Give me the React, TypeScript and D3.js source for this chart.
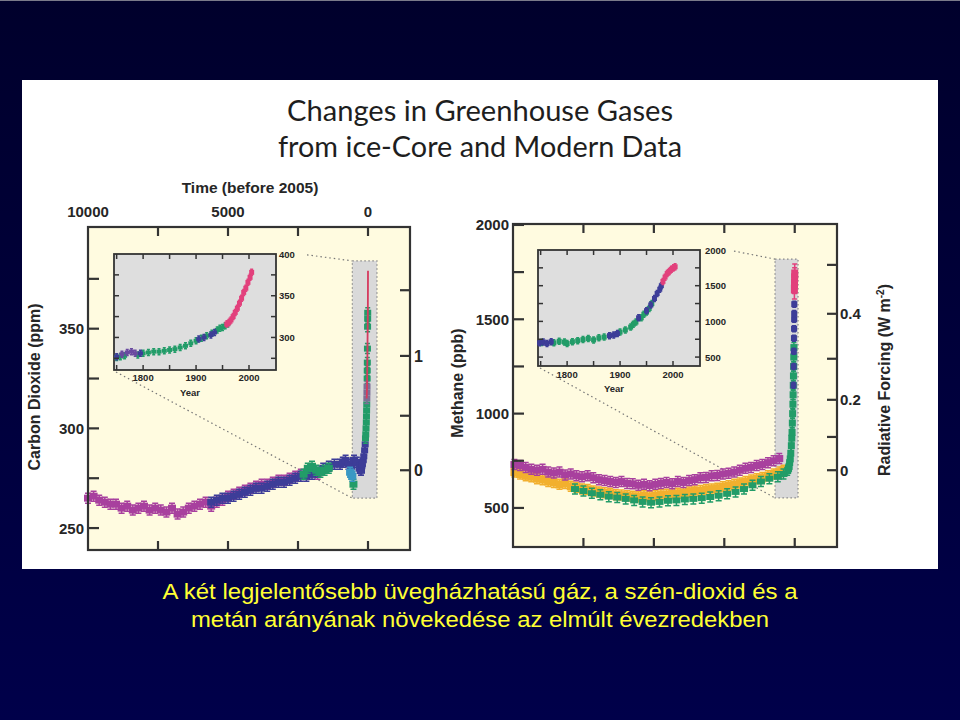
import React from 'react';
import * as d3 from 'd3';

// ---------- DATA ----------
// Carbon dioxide, ice core (years before 2005, ppm)
const co2Magenta: [number, number][] = [
  [10000, 265], [9800, 266], [9600, 264], [9400, 263], [9200, 262], [9000, 262], [8800, 260], [8600, 261],
  [8400, 259], [8200, 260], [8000, 261], [7800, 259], [7600, 260], [7400, 259], [7200, 258], [7000, 260],
  [6800, 257], [6600, 258], [6400, 260], [6200, 261], [6000, 262], [5800, 263], [5600, 261], [5400, 263],
  [5200, 264], [5000, 266], [4800, 267], [4600, 268], [4400, 269], [4200, 270], [4000, 271], [3800, 272],
  [3600, 272], [3400, 273], [3200, 274], [3000, 274], [2800, 275], [2600, 276], [2400, 277], [2200, 277],
  [2000, 278], [1800, 277],
];
const co2Blue: [number, number][] = [
  [5600, 263], [5400, 264], [5200, 265], [5000, 265], [4800, 266], [4600, 267], [4400, 268], [4200, 269],
  [4000, 270], [3800, 270], [3600, 271], [3400, 272], [3200, 273], [3000, 273], [2800, 274], [2600, 275],
  [2400, 276], [2200, 276], [2000, 277], [1800, 278], [1600, 280], [1400, 281], [1200, 282], [1000, 282],
  [900, 283], [800, 284], [700, 282], [600, 281], [500, 284], [400, 283], [300, 280], [250, 279],
];
const co2Green: [number, number][] = [
  [2300, 277], [2150, 280], [2000, 281], [1850, 279], [1700, 278], [1550, 279], [1400, 280], [520, 272],
];
const co2Cyan: [number, number][] = [[640, 278], [600, 277], [560, 276]];
const co2SpikeBlue: [number, number][] = [
  [250, 279], [220, 281], [200, 282], [170, 284], [150, 286], [120, 289], [100, 292],
];
const co2SpikeGreen: [number, number][] = [
  [90, 295], [80, 297], [70, 300], [60, 303], [55, 306], [50, 309], [45, 312],
  [30, 325], [27, 329], [24, 333], [20, 340], [15, 351], [12, 355], [10, 358],
];
const co2SpikeGray: [number, number][] = [[42, 315], [38, 318], [35, 321]];
const co2SpikeRed: [number, number][] = [
  [47, 315], [40, 318], [35, 320], [30, 325], [25, 331], [20, 339], [15, 346], [10, 354], [5, 361], [2, 370], [0, 379],
];

// Carbon dioxide, inset (year AD, ppm)
const co2InsetPurple: [number, number][] = [[1760, 280], [1770, 282], [1778, 283], [1785, 281]];
const co2InsetBlue: [number, number][] = [[1750, 277], [1795, 281], [1905, 298], [1915, 300], [1928, 303], [1935, 306]];
const co2InsetGreen: [number, number][] = [
  [1750, 276], [1757, 277], [1765, 278], [1790, 279], [1800, 281], [1810, 282], [1820, 283], [1830, 283],
  [1840, 284], [1850, 285], [1860, 286], [1870, 288], [1880, 290], [1890, 293], [1900, 296], [1910, 299],
  [1920, 302], [1930, 305], [1940, 309], [1945, 311], [1950, 312], [1955, 314], [1960, 316],
];
const co2InsetPink: [number, number][] = [
  [1958, 316], [1962, 318], [1966, 321], [1970, 325], [1974, 330], [1978, 335], [1982, 341],
  [1986, 347], [1990, 354], [1994, 359], [1998, 366], [2002, 372], [2005, 378],
];

// Methane, ice core (years before 2005, ppb)
const ch4Purple: [number, number][] = [
  [9950, 730], [9750, 725], [9550, 715], [9350, 705], [9150, 700], [8950, 705], [8750, 690], [8550, 685],
  [8350, 690], [8150, 675], [7950, 680], [7750, 670], [7550, 665], [7350, 670], [7150, 660], [6950, 650],
  [6750, 645], [6550, 640], [6350, 635], [6150, 640], [5950, 630], [5750, 628], [5550, 620], [5350, 625],
  [5150, 618], [4950, 625], [4750, 630], [4550, 635], [4350, 628], [4150, 640], [3950, 635], [3750, 645],
  [3550, 650], [3350, 660], [3150, 662], [2950, 670], [2750, 672], [2550, 680], [2350, 684], [2150, 690],
  [1950, 700], [1750, 710], [1550, 715], [1350, 725], [1150, 730], [950, 740], [750, 750], [550, 762],
];
const ch4Orange: [number, number][] = [
  [9950, 690], [9750, 680], [9550, 670], [9350, 665], [9150, 655], [8950, 650], [8750, 640], [8550, 635],
  [8350, 625], [8150, 630], [7950, 615], [7750, 610], [7550, 600], [7350, 598], [7150, 590], [6950, 585],
  [6750, 580], [6550, 578], [6350, 570], [6150, 568], [5950, 565], [5750, 562], [5550, 560], [5350, 565],
  [5150, 560], [4950, 566], [4750, 570], [4550, 572], [4350, 575], [4150, 578], [3950, 580], [3750, 585],
  [3550, 590], [3350, 592], [3150, 598], [2950, 600], [2750, 605], [2550, 612], [2350, 618], [2150, 625],
  [1950, 632], [1750, 640], [1550, 648], [1350, 655], [1150, 662], [950, 670], [750, 680], [550, 690], [400, 700],
];
const ch4Green: [number, number][] = [
  [7800, 600], [7500, 590], [7200, 578], [6900, 570], [6600, 560], [6300, 555], [6000, 548], [5700, 540],
  [5400, 532], [5100, 528], [4800, 532], [4500, 538], [4200, 540], [3900, 545], [3600, 548], [3300, 552],
  [3000, 558], [2700, 565], [2400, 575], [2100, 585], [1800, 600], [1500, 620], [1200, 640], [900, 655],
  [600, 665], [400, 680],
];
const ch4SpikeGreen: [number, number][] = [
  [250, 700], [220, 710], [200, 720], [180, 740], [160, 760], [140, 790], [120, 830], [105, 870], [95, 900],
  [85, 950], [75, 1000], [65, 1050], [58, 1100], [52, 1150], [46, 1200], [40, 1250], [35, 1300], [30, 1350],
];
const ch4SpikeBlue: [number, number][] = [
  [45, 1150], [38, 1250], [33, 1330], [28, 1400], [25, 1450], [22, 1500], [20, 1530], [17, 1580],
];
const ch4SpikePink: [number, number][] = [[12, 1660], [8, 1690], [4, 1720], [1, 1740]];

// Methane, inset (year AD, ppb)
const ch4InsetBlue: [number, number][] = [
  [1748, 700], [1755, 710], [1762, 690], [1770, 715], [1880, 800], [1888, 810], [1895, 830], [1935, 1050],
  [1950, 1150], [1958, 1230], [1965, 1320], [1970, 1390], [1975, 1450], [1978, 1500],
];
const ch4InsetGreen: [number, number][] = [
  [1752, 705], [1775, 700], [1785, 720], [1795, 710], [1800, 690], [1810, 715], [1820, 730], [1830, 745],
  [1840, 760], [1850, 740], [1860, 770], [1870, 780], [1900, 850], [1910, 880], [1920, 920], [1925, 960],
  [1930, 990], [1940, 1050], [1945, 1100], [1950, 1130], [1955, 1180], [1960, 1250],
];
const ch4InsetPink: [number, number][] = [[1981, 1560], [1985, 1620], [1989, 1670], [1993, 1700], [1997, 1730], [2001, 1750], [2004, 1765]];

// Axis tick values
const timeTicks = [7500, 5000, 2500, 0];
const timeLabels = [10000, 5000, 0];
const co2TicksMajor = [250, 300, 350];
const co2TicksMinor = [275, 325, 375];
const co2ForcingTicks = [0, 0.5, 1, 1.5];
const co2ForcingLabels = [0, 1];
const ch4TicksMajor = [500, 1000, 1500, 2000];
const ch4TicksMinor = [750, 1250, 1750];
const ch4ForcingTicks = [0, 0.1, 0.2, 0.3, 0.4, 0.5];
const ch4ForcingLabels = [0, 0.2, 0.4];
const insetYearTicks = [1750, 1800, 1850, 1900, 1950, 2000, 2050];
const insetYearLabels = [1800, 1900, 2000];
const co2InsetTicks = [275, 300, 325, 350, 375, 400];
const co2InsetLabels = [300, 350, 400];
const ch4InsetTicks = [500, 750, 1000, 1250, 1500, 1750, 2000];
const ch4InsetLabels = [500, 1000, 1500, 2000];

const titleLines = ['Changes in Greenhouse Gases', 'from ice-Core and Modern Data'];
const captionLines = [
  'A két legjelentősebb üvegházhatású gáz, a szén-dioxid és a',
  'metán arányának növekedése az elmúlt évezredekben',
];

// ---------- COLORS ----------
const C = {
  magenta: '#a8409e',
  blue: '#3d3d98',
  green: '#229c68',
  cyan: '#3a98c4',
  gray: '#7a7094',
  pink: '#e2407c',
  red: '#d63a5e',
  orange: '#f2b02e',
  text: '#262626',
};

// ---------- SCALES ----------
const co2X = d3.scaleLinear().domain([10000, -1500]).range([88, 410]);
const co2Y = d3.scaleLinear().domain([239, 401]).range([550, 227]);
const co2InX = d3.scaleLinear().domain([1745, 2051]).range([114, 276]);
const co2InY = d3.scaleLinear().domain([261, 400]).range([370, 254]);
const ch4X = d3.scaleLinear().domain([10000, -1500]).range([513, 837]);
const ch4Y = d3.scaleLinear().domain([293, 2005]).range([547, 224]);
const ch4InX = d3.scaleLinear().domain([1745, 2051]).range([538, 700]);
const ch4InY = d3.scaleLinear().domain([375, 2000]).range([366, 250]);

// radiative forcing conversions
const co2FromForcing = (f: number) => 279 * Math.exp(f / 5.35);
const overlap = (m: number, n: number) =>
  0.47 * Math.log(1 + 2.01e-5 * Math.pow(m * n, 0.75) + 5.31e-15 * m * Math.pow(m * n, 1.52));
const ch4Forcing = (m: number) => {
  const m0 = 700, n0 = 270;
  return 0.036 * (Math.sqrt(m) - Math.sqrt(m0)) - (overlap(m, n0) - overlap(m0, n0));
};
const ch4FromForcing = (f: number) => {
  let lo = 300, hi = 3000;
  for (let i = 0; i < 60; i++) {
    const mid = (lo + hi) / 2;
    if (ch4Forcing(mid) < f) lo = mid; else hi = mid;
  }
  return (lo + hi) / 2;
};

const AX_FONT = '"Liberation Sans", Arial, sans-serif';

function marks(
  data: [number, number][],
  sx: (v: number) => number,
  sy: (v: number) => number,
  color: string,
  key: string,
  w = 8,
  h = 7,
  e = 5,
) {
  return data.map(([t, v], i) => {
    const x = sx(t), y = sy(v);
    const cw = Math.max(2, w - 2);
    return (
      <g key={key + i}>
        <path
          d={`M${x - cw / 2},${y - e}h${cw}M${x},${y - e}v${2 * e}M${x - cw / 2},${y + e}h${cw}`}
          stroke={color}
          strokeWidth={1.5}
          fill="none"
        />
        <rect x={x - w / 2} y={y - h / 2} width={w} height={h} fill={color} />
      </g>
    );
  });
}

export default function App() {
  const co2Line = d3.line<[number, number]>().x((d) => co2X(d[0])).y((d) => co2Y(d[1]));

  const L = { x0: co2X(10000), x1: co2X(-1500), y0: co2Y(401), y1: co2Y(239) };
  const R = { x0: ch4X(10000), x1: ch4X(-1500), y0: ch4Y(2005), y1: ch4Y(293) };
  const LI = { x0: co2InX(1745), x1: co2InX(2051), y0: co2InY(400), y1: co2InY(261) };
  const RI = { x0: ch4InX(1745), x1: ch4InX(2051), y0: ch4InY(2000), y1: ch4InY(375) };

  const co2Zoom = { x0: co2X(560), x1: co2X(-320), y0: co2Y(384), y1: co2Y(265) };
  const ch4Zoom = { x0: ch4X(700), x1: ch4X(-117), y0: ch4Y(1819), y1: ch4Y(553) };

  const dotted = { stroke: '#777', strokeWidth: 1.2, strokeDasharray: '1.5 3', fill: 'none' };

  return (
    <svg
      width={960}
      height={720}
      viewBox="0 0 960 720"
      style={{ position: 'absolute', left: 0, top: 0, display: 'block' }}
    >
      <defs>
        <linearGradient id="bg" x1="0" y1="0" x2="0" y2="1">
          <stop offset="0" stopColor="#00002c" />
          <stop offset="1" stopColor="#00004a" />
        </linearGradient>
      </defs>
      <rect x={0} y={0} width={960} height={720} fill="url(#bg)" />
      <line x1={0} y1={0.5} x2={960} y2={0.5} stroke="#7a7a8a" strokeWidth={1} />
      <rect x={22} y={80} width={916} height={489} fill="#ffffff" />

      {/* Title */}
      {titleLines.map((t, i) => (
        <text
          key={t}
          x={480}
          y={121 + i * 36}
          textAnchor="middle"
          fontFamily="Lato, 'Open Sans', sans-serif"
          fontSize={29}
          fill="#1e1e1e"
          textLength={i === 0 ? 386 : 404}
          lengthAdjust="spacingAndGlyphs"
        >
          {t}
        </text>
      ))}

      {/* ===== LEFT PANEL: CO2 ===== */}
      <rect x={L.x0} y={L.y0} width={L.x1 - L.x0} height={L.y1 - L.y0} fill="#fffbe0" />
      <line x1={LI.x1 + 31} y1={co2InY(399)} x2={co2Zoom.x0} y2={co2Zoom.y0} {...dotted} />
      <line x1={LI.x0 + 2} y1={LI.y1 + 2} x2={co2Zoom.x0} y2={co2Zoom.y1} {...dotted} />
      <rect
        x={co2Zoom.x0}
        y={co2Zoom.y0}
        width={co2Zoom.x1 - co2Zoom.x0}
        height={co2Zoom.y1 - co2Zoom.y0}
        fill="#d9d9d9"
        stroke="#888"
        strokeWidth={1.2}
        strokeDasharray="1.5 2.5"
      />
      {marks(co2Magenta, co2X, co2Y, C.magenta, 'cm')}
      {marks(co2Blue, co2X, co2Y, C.blue, 'cb')}
      {marks(co2Green, co2X, co2Y, C.green, 'cg')}
      {marks(co2Cyan, co2X, co2Y, C.cyan, 'cc')}
      {marks(co2SpikeBlue, co2X, co2Y, C.blue, 'sb', 7, 6, 5)}
      {marks(co2SpikeGreen, co2X, co2Y, C.green, 'sg', 7, 6, 5)}
      {marks(co2SpikeGray, co2X, co2Y, C.gray, 'sy', 7, 6, 5)}
      <path d={co2Line(co2SpikeRed) || ''} stroke={C.red} strokeWidth={1.8} fill="none" />

      <rect x={L.x0} y={L.y0} width={L.x1 - L.x0} height={L.y1 - L.y0} fill="none" stroke="#333" strokeWidth={2.2} />
      {timeTicks.map((t) => (
        <g key={'lt' + t}>
          <line x1={co2X(t)} x2={co2X(t)} y1={L.y0} y2={L.y0 + 9} stroke="#333" strokeWidth={2.2} />
          <line x1={co2X(t)} x2={co2X(t)} y1={L.y1} y2={L.y1 - 9} stroke="#333" strokeWidth={2.2} />
        </g>
      ))}
      {co2TicksMajor.concat(co2TicksMinor).map((v) => (
        <line key={'ly' + v} x1={L.x0} x2={L.x0 + 11} y1={co2Y(v)} y2={co2Y(v)} stroke="#333" strokeWidth={2.2} />
      ))}
      {co2ForcingTicks.map((f) => (
        <line
          key={'lf' + f}
          x1={L.x1}
          x2={L.x1 - 10}
          y1={co2Y(co2FromForcing(f))}
          y2={co2Y(co2FromForcing(f))}
          stroke="#333"
          strokeWidth={2.2}
        />
      ))}
      <g fontFamily={AX_FONT} fontWeight="bold" fill={C.text}>
        {timeLabels.map((t) => (
          <text key={'tl' + t} x={co2X(t)} y={217} textAnchor="middle" fontSize={15}>
            {t}
          </text>
        ))}
        <text x={250} y={193} textAnchor="middle" fontSize={15.5}>
          Time (before 2005)
        </text>
        {co2TicksMajor.map((v) => (
          <text key={'lyl' + v} x={84} y={co2Y(v) + 5.5} textAnchor="end" fontSize={15}>
            {v}
          </text>
        ))}
        {co2ForcingLabels.map((f) => (
          <text key={'lfl' + f} x={414} y={co2Y(co2FromForcing(f)) + 6} fontSize={16}>
            {f}
          </text>
        ))}
        <text x={0} y={0} transform="translate(40,387) rotate(-90)" textAnchor="middle" fontSize={16}>
          Carbon Dioxide (ppm)
        </text>
      </g>

      {/* left inset */}
      <rect x={LI.x0} y={LI.y0} width={LI.x1 - LI.x0} height={LI.y1 - LI.y0} fill="#dedede" stroke="#333" strokeWidth={1.8} />
      {marks(co2InsetGreen, co2InX, co2InY, C.green, 'ig', 5, 4, 3)}
      {marks(co2InsetBlue, co2InX, co2InY, C.blue, 'ib', 5, 4, 3)}
      {marks(co2InsetPurple, co2InX, co2InY, '#6a4aa0', 'ip', 5, 4, 3)}
      {marks(co2InsetPink, co2InX, co2InY, C.pink, 'ik', 5, 5, 3)}
      {insetYearTicks.map((t) =>
        co2InX(t) > LI.x0 + 1 && co2InX(t) < LI.x1 - 1 ? (
          <g key={'lit' + t}>
            <line x1={co2InX(t)} x2={co2InX(t)} y1={LI.y0} y2={LI.y0 + 5} stroke="#333" strokeWidth={1.5} />
            <line x1={co2InX(t)} x2={co2InX(t)} y1={LI.y1} y2={LI.y1 - 5} stroke="#333" strokeWidth={1.5} />
          </g>
        ) : null,
      )}
      {co2InsetTicks.map((v) =>
        co2InY(v) > LI.y0 + 1 ? (
          <g key={'liy' + v}>
            <line x1={LI.x0} x2={LI.x0 + 5} y1={co2InY(v)} y2={co2InY(v)} stroke="#333" strokeWidth={1.5} />
            <line x1={LI.x1} x2={LI.x1 - 5} y1={co2InY(v)} y2={co2InY(v)} stroke="#333" strokeWidth={1.5} />
          </g>
        ) : null,
      )}
      <g fontFamily={AX_FONT} fontWeight="bold" fill={C.text} fontSize={9.5}>
        {insetYearLabels.map((t) => (
          <text key={'lil' + t} x={co2InX(t)} y={381} textAnchor="middle">
            {t}
          </text>
        ))}
        <text x={190} y={396} textAnchor="middle">Year</text>
        {co2InsetLabels.map((v) => (
          <text key={'liyl' + v} x={LI.x1 + 3} y={co2InY(v) + 3.5}>
            {v}
          </text>
        ))}
      </g>

      {/* ===== RIGHT PANEL: CH4 ===== */}
      <rect x={R.x0} y={R.y0} width={R.x1 - R.x0} height={R.y1 - R.y0} fill="#fffbe0" />
      <line x1={RI.x1 + 34} y1={ch4InY(1985)} x2={ch4Zoom.x0} y2={ch4Zoom.y0} {...dotted} />
      <line x1={RI.x0 + 2} y1={RI.y1 + 2} x2={ch4Zoom.x0} y2={ch4Zoom.y1} {...dotted} />
      <rect
        x={ch4Zoom.x0}
        y={ch4Zoom.y0}
        width={ch4Zoom.x1 - ch4Zoom.x0}
        height={ch4Zoom.y1 - ch4Zoom.y0}
        fill="#d9d9d9"
        stroke="#888"
        strokeWidth={1.2}
        strokeDasharray="1.5 2.5"
      />
      {marks(ch4Orange, ch4X, ch4Y, C.orange, 'mo', 8, 8, 5)}
      {marks(ch4Green, ch4X, ch4Y, C.green, 'mg', 8, 6, 5)}
      {marks(ch4Purple, ch4X, ch4Y, C.magenta, 'mp', 8, 7, 5)}
      {marks(ch4SpikeGreen, ch4X, ch4Y, C.green, 'msg', 7, 7, 5)}
      {marks(ch4SpikeBlue, ch4X, ch4Y, C.blue, 'msb', 6, 6, 3)}
      {marks(ch4SpikePink, ch4X, ch4Y, C.pink, 'msp', 7, 9, 10)}

      <rect x={R.x0} y={R.y0} width={R.x1 - R.x0} height={R.y1 - R.y0} fill="none" stroke="#333" strokeWidth={2.2} />
      {timeTicks.map((t) => (
        <g key={'rt' + t}>
          <line x1={ch4X(t)} x2={ch4X(t)} y1={R.y0} y2={R.y0 + 9} stroke="#333" strokeWidth={2.2} />
          <line x1={ch4X(t)} x2={ch4X(t)} y1={R.y1} y2={R.y1 - 9} stroke="#333" strokeWidth={2.2} />
        </g>
      ))}
      {ch4TicksMajor.concat(ch4TicksMinor).map((v) => (
        <line key={'ry' + v} x1={R.x0} x2={R.x0 + 11} y1={ch4Y(v)} y2={ch4Y(v)} stroke="#333" strokeWidth={2.2} />
      ))}
      {ch4ForcingTicks.map((f) => (
        <line
          key={'rf' + f}
          x1={R.x1}
          x2={R.x1 - 10}
          y1={ch4Y(ch4FromForcing(f))}
          y2={ch4Y(ch4FromForcing(f))}
          stroke="#333"
          strokeWidth={2.2}
        />
      ))}
      <g fontFamily={AX_FONT} fontWeight="bold" fill={C.text}>
        {ch4TicksMajor.map((v) => (
          <text key={'ryl' + v} x={509} y={ch4Y(v) + 5.5} textAnchor="end" fontSize={15}>
            {v}
          </text>
        ))}
        {ch4ForcingLabels.map((f) => (
          <text key={'rfl' + f} x={840} y={ch4Y(ch4FromForcing(f)) + 5.5} fontSize={15}>
            {f}
          </text>
        ))}
        <text x={0} y={0} transform="translate(463,383) rotate(-90)" textAnchor="middle" fontSize={16}>
          Methane (ppb)
        </text>
        <text x={0} y={0} transform="translate(890,380) rotate(-90)" textAnchor="middle" fontSize={16}>
          Radiative Forcing (W m
          <tspan dy={-6} fontSize={10}>-2</tspan>
          <tspan dy={6}>)</tspan>
        </text>
      </g>

      {/* right inset */}
      <rect x={RI.x0} y={RI.y0} width={RI.x1 - RI.x0} height={RI.y1 - RI.y0} fill="#dedede" stroke="#333" strokeWidth={1.8} />
      {marks(ch4InsetGreen, ch4InX, ch4InY, C.green, 'jg', 5, 5, 3)}
      {marks(ch4InsetBlue, ch4InX, ch4InY, C.blue, 'jb', 5, 5, 3)}
      {marks(ch4InsetPink, ch4InX, ch4InY, C.pink, 'jp', 5, 5, 3)}
      {insetYearTicks.map((t) =>
        ch4InX(t) > RI.x0 + 1 && ch4InX(t) < RI.x1 - 1 ? (
          <g key={'rit' + t}>
            <line x1={ch4InX(t)} x2={ch4InX(t)} y1={RI.y0} y2={RI.y0 + 5} stroke="#333" strokeWidth={1.5} />
            <line x1={ch4InX(t)} x2={ch4InX(t)} y1={RI.y1} y2={RI.y1 - 5} stroke="#333" strokeWidth={1.5} />
          </g>
        ) : null,
      )}
      {ch4InsetTicks.map((v) =>
        ch4InY(v) > RI.y0 + 1 ? (
          <g key={'riy' + v}>
            <line x1={RI.x0} x2={RI.x0 + 5} y1={ch4InY(v)} y2={ch4InY(v)} stroke="#333" strokeWidth={1.5} />
            <line x1={RI.x1} x2={RI.x1 - 5} y1={ch4InY(v)} y2={ch4InY(v)} stroke="#333" strokeWidth={1.5} />
          </g>
        ) : null,
      )}
      <g fontFamily={AX_FONT} fontWeight="bold" fill={C.text} fontSize={9.5}>
        {insetYearLabels.map((t) => (
          <text key={'ril' + t} x={ch4InX(t)} y={378} textAnchor="middle">
            {t}
          </text>
        ))}
        <text x={614} y={392} textAnchor="middle">Year</text>
        {ch4InsetLabels.map((v) => (
          <text key={'riyl' + v} x={RI.x1 + 5} y={ch4InY(v) + 3.5}>
            {v}
          </text>
        ))}
      </g>

      {/* Caption */}
      {captionLines.map((t, i) => (
        <text
          key={t}
          x={480}
          y={599 + i * 28}
          textAnchor="middle"
          fontFamily={AX_FONT}
          fontSize={22}
          fill="#ffff33"
          textLength={i === 0 ? 635 : 578}
          lengthAdjust="spacingAndGlyphs"
        >
          {t}
        </text>
      ))}
    </svg>
  );
}
